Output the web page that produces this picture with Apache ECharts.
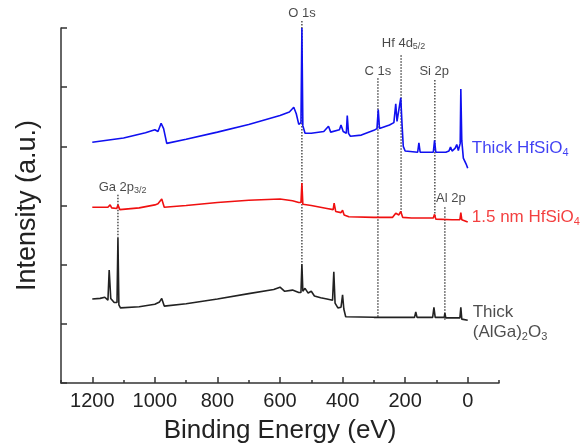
<!DOCTYPE html>
<html>
<head>
<meta charset="utf-8">
<script src="https://cdn.jsdelivr.net/npm/echarts@6/dist/echarts.min.js"></script>
<style>
  html, body { margin: 0; padding: 0; background: #fff; }
  #chart { width: 588px; height: 445px; }
</style>
</head>
<body>
<div id="chart"></div>
<script>
// XPS survey spectra, binding energy (eV) vs. stacked intensity (a.u.)
const FONT = '"Liberation Sans", Arial, sans-serif';

const xMajorTicks = [0, 200, 400, 600, 800, 1000, 1200];
const xMinorTicks = [-100, 100, 300, 500, 700, 900, 1100, 1300];

// Thick HfSiO4
const hfThickE = [1200, 1100, 1030, 1000, 990, 980, 972, 962, 900, 800, 700, 600, 570, 556, 548, 540, 533, 530, 527, 520,
  500, 460, 445, 438, 410, 405, 398, 388, 385, 381, 375, 340, 300, 290, 286, 282, 250, 236, 230, 226,
  220, 214, 210, 206, 200, 160, 156, 152, 110, 106, 102, 70, 60, 55, 50, 40, 35, 30, 24, 22, 19, 14, 5, 0];
const hfThickI = [4.07, 4.14, 4.23, 4.28, 4.25, 4.39, 4.30, 4.05, 4.12, 4.24, 4.37, 4.52, 4.58, 4.66, 4.55, 4.37, 4.40, 6.00, 4.35, 4.22,
  4.22, 4.25, 4.34, 4.24, 4.28, 4.36, 4.25, 4.22, 4.52, 4.22, 4.17, 4.19, 4.27, 4.30, 4.62, 4.30, 4.36, 4.40, 4.72, 4.42,
  4.45, 4.82, 4.38, 4.00, 3.92, 3.90, 4.06, 3.90, 3.90, 4.10, 3.90, 3.90, 3.92, 3.99, 3.92, 3.97, 4.03, 3.93, 4.05, 4.97, 4.10, 3.80, 3.70, 3.63];

// 1.5 nm HfSiO4
const hfThinE = [1200, 1150, 1143, 1138, 1122, 1118, 1112, 1050, 1000, 990, 978, 970, 900, 800, 700, 600, 560, 540, 533, 530,
  527, 500, 450, 430, 427, 422, 405, 400, 395, 380, 300, 287, 240, 230, 220, 214, 208, 180, 110, 106,
  102, 50, 25, 22, 19, 0];
const hfThinI = [2.97, 2.97, 3.01, 2.96, 2.95, 3.01, 2.93, 2.96, 3.01, 3.03, 3.11, 2.97, 3.00, 3.05, 3.09, 3.11, 3.08, 3.05, 3.05, 3.38,
  3.02, 3.00, 2.95, 2.93, 3.04, 2.90, 2.88, 2.92, 2.84, 2.81, 2.80, 2.80, 2.80, 2.87, 2.84, 2.90, 2.80, 2.79, 2.79, 2.85,
  2.77, 2.76, 2.76, 2.88, 2.76, 2.72];

// Thick (AlGa)2O3
const algaE = [1200, 1175, 1160, 1150, 1146, 1141, 1130, 1121, 1118, 1115, 1110, 1050, 1000, 985, 978, 970, 900, 800, 700, 620,
  600, 585, 560, 540, 533, 530, 527, 520, 510, 500, 490, 470, 450, 432, 428, 424, 415, 405, 400, 396,
  390, 300, 200, 170, 166, 162, 112, 108, 104, 75, 73, 70, 25, 22, 19, 0];
const algaI = [1.42, 1.43, 1.45, 1.40, 1.91, 1.43, 1.36, 1.36, 2.45, 1.32, 1.27, 1.29, 1.33, 1.37, 1.43, 1.30, 1.34, 1.42, 1.51, 1.58,
  1.62, 1.55, 1.57, 1.53, 1.53, 2.01, 1.55, 1.60, 1.52, 1.55, 1.47, 1.44, 1.42, 1.40, 1.88, 1.35, 1.27, 1.28, 1.49, 1.25,
  1.12, 1.11, 1.11, 1.11, 1.20, 1.11, 1.11, 1.28, 1.11, 1.11, 1.18, 1.10, 1.10, 1.28, 1.08, 1.06];

// Peak assignments: energy (eV), dotted guide from top to bottom intensity
const peakNames = ['O 1s', 'C 1s', 'Hf 4d5/2', 'Si 2p', 'Al 2p', 'Ga 2p3/2'];
const peakEnergy = [530, 287, 213, 105, 73, 1118];
const guideTop = [6.12, 5.15, 5.54, 5.12, 2.97, 3.18];
const guideBottom = [2.01, 1.10, 2.87, 2.80, 1.06, 2.45];

// Label anchors [energy, intensity] for peak names and sample names
const peakLabelAt = [[530, 6.25], [287, 5.27], [205, 5.74], [107, 5.27], [54, 3.12], [1103, 3.31]];
const sampleLabelAt = [[-13, 3.97], [-13, 2.80], [-16, 1.02]];

const zip = (xs, ys) => xs.map((x, i) => [x, ys[i]]);

const peakRich = {
  n: { fontSize: 13, fontFamily: FONT, color: '#1a1a1a', lineHeight: 16 },
  s: { fontSize: 9, fontFamily: FONT, color: '#1a1a1a', lineHeight: 16, verticalAlign: 'bottom' }
};
function peakText(name) {
  if (name === 'Hf 4d5/2') return '{n|Hf 4d}{s|5/2}';
  if (name === 'Ga 2p3/2') return '{n|Ga 2p}{s|3/2}';
  return '{n|' + name + '}';
}
function sampleRich(color) {
  return {
    n: { fontSize: 17, fontFamily: FONT, color: color, lineHeight: 20 },
    s: { fontSize: 11, fontFamily: FONT, color: color, lineHeight: 20, verticalAlign: 'bottom' }
  };
}
const sampleNames = ['Thick HfSiO4', '1.5 nm HfSiO4', 'Thick (AlGa)2O3'];
const sampleColors = ['#1010f0', '#f01010', '#222222'];
const sampleTexts = [
  '{n|Thick HfSiO}{s|4}',
  '{n|1.5 nm HfSiO}{s|4}',
  '{n|Thick}\n{n|(AlGa)}{s|2}{n|O}{s|3}'
];

const series = [];
const spectra = [[hfThickE, hfThickI], [hfThinE, hfThinI], [algaE, algaI]];
spectra.forEach(([e, v], k) => {
  series.push({
    name: sampleNames[k], type: 'line', data: zip(e, v), symbol: 'none',
    lineStyle: { color: sampleColors[k], width: 1.6 }, z: 3, animation: false
  });
});

peakEnergy.forEach((e, k) => {
  series.push({
    type: 'line', data: [[e, guideTop[k]], [e, guideBottom[k]]], symbol: 'none', clip: false,
    lineStyle: { color: '#333', width: 1.3, type: [1.5, 1.5] }, z: 2, animation: false, silent: true
  });
});

series.push({
  type: 'scatter', symbolSize: 0, clip: false, animation: false, silent: true,
  data: peakLabelAt.map((p, k) => ({
    value: p,
    label: { show: true, position: 'inside', formatter: peakText(peakNames[k]), rich: peakRich }
  }))
});

series.push({
  type: 'scatter', symbolSize: 0, clip: false, animation: false, silent: true,
  data: sampleLabelAt.map((p, k) => ({
    value: p,
    label: {
      show: true, position: 'right', distance: 0, align: 'left',
      formatter: sampleTexts[k], rich: sampleRich(sampleColors[k])
    }
  }))
});

const axisColor = '#333';
const chart = echarts.init(document.getElementById('chart'), null, { renderer: 'canvas' });
chart.setOption({
  backgroundColor: '#fff',
  animation: false,
  grid: { left: 61, right: 89, top: 28, bottom: 62, containLabel: false, outerBoundsMode: 'none' },
  xAxis: [{
    type: 'value', inverse: true, min: -100, max: 1300,
    name: 'Binding Energy (eV)', nameLocation: 'middle', nameGap: 35,
    nameTextStyle: { fontSize: 26, fontFamily: FONT, color: '#222' },
    axisLine: { show: true, onZero: false, lineStyle: { color: axisColor, width: 1.5 } },
    axisTick: { show: true, inside: true, length: 6, customValues: xMajorTicks, lineStyle: { color: axisColor, width: 1.5 } },
    axisLabel: { show: true, customValues: xMajorTicks, formatter: v => String(v), fontSize: 20, fontFamily: FONT, color: '#222', margin: 8 },
    splitLine: { show: false }
  }, {
    type: 'value', inverse: true, min: -100, max: 1300, position: 'bottom',
    axisLine: { show: false, onZero: false },
    axisTick: { show: true, inside: true, length: 3, customValues: xMinorTicks, lineStyle: { color: axisColor, width: 1.5 } },
    axisLabel: { show: false },
    splitLine: { show: false }
  }],
  yAxis: {
    type: 'value', min: 0, max: 6, interval: 1,
    name: 'Intensity (a.u.)', nameLocation: 'middle', nameGap: 20, nameRotate: 90,
    nameTextStyle: { fontSize: 27, fontFamily: FONT, color: '#222' },
    axisLine: { show: true, onZero: false, lineStyle: { color: axisColor, width: 1.5 } },
    axisTick: { show: true, inside: true, length: 6, lineStyle: { color: axisColor, width: 1.5 } },
    axisLabel: { show: false },
    splitLine: { show: false }
  },
  series: series
});
</script>
</body>
</html>
